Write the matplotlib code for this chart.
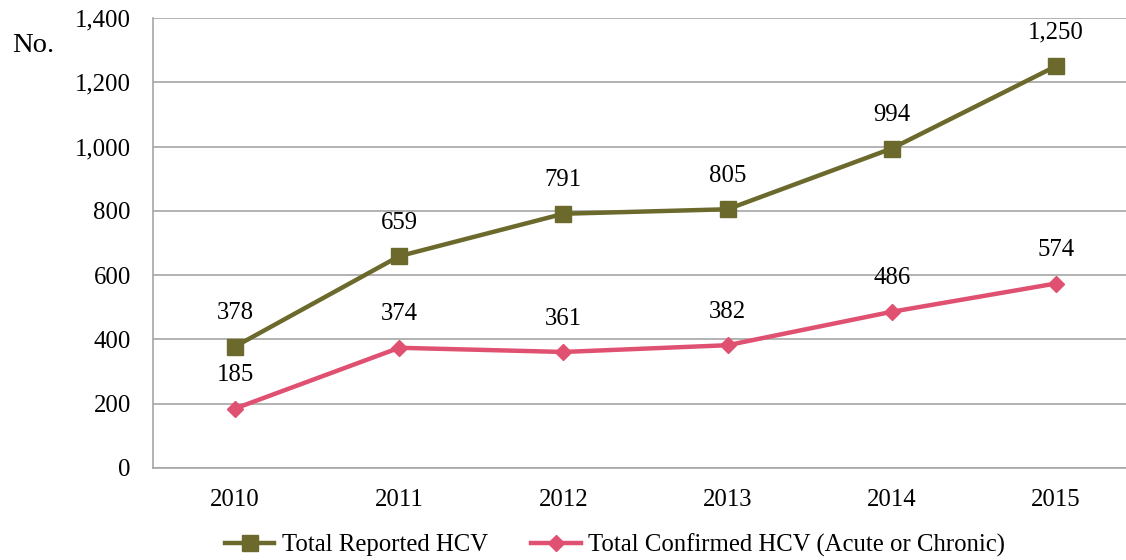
import matplotlib
matplotlib.use("Agg")
import matplotlib.pyplot as plt

years = ["2010", "2011", "2012", "2013", "2014", "2015"]
reported = [378, 659, 791, 805, 994, 1250]
confirmed = [185, 374, 361, 382, 486, 574]
yticks = [0, 200, 400, 600, 800, 1000, 1200, 1400]

plt.rcParams['font.family'] = ['Liberation Serif', 'DejaVu Serif']

olive = "#6B6A2C"
pink = "#E05070"
grid = "#A6A6A6"
fs = 17.8

fig = plt.figure(figsize=(11.26, 5.6), dpi=100)
ax = fig.add_axes([153/1126, 1-468/560, (1138-153)/1126, 450/560])

x = list(range(len(years)))
ax.plot(x, reported, color=olive, lw=3.2, marker='s', ms=12, label="Total Reported HCV", zorder=3)
ax.plot(x, confirmed, color=pink, lw=3.2, marker='D', ms=8.5, label="Total Confirmed HCV (Acute or Chronic)", zorder=3)

for xi, v in zip(x, reported):
    ax.annotate(f"{v:,}", (xi, v), xytext=(0, 24), textcoords='offset points',
                ha='center', va='center', fontsize=fs, color='black')
for xi, v in zip(x, confirmed):
    ax.annotate(f"{v:,}", (xi, v), xytext=(0, 24), textcoords='offset points',
                ha='center', va='center', fontsize=fs, color='black')

ax.set_xlim(-0.5, len(years) - 0.5)
ax.set_ylim(0, 1400)
ax.set_yticks(yticks)
ax.set_yticklabels([f"{t:,}" for t in yticks], fontsize=fs)
ax.set_xticks(x)
ax.set_xticklabels(years, fontsize=fs)
ax.tick_params(axis='y', length=0, pad=16)
ax.tick_params(axis='x', length=0, pad=15)
ax.grid(axis='y', color=grid, lw=1.2)
ax.set_axisbelow(True)
for s in ['top', 'right']:
    ax.spines[s].set_visible(False)
for s in ['left', 'bottom']:
    ax.spines[s].set_color(grid)
    ax.spines[s].set_linewidth(1.2)

fig.text(12/1126, 1-45/560, "No.", fontsize=20.5, ha='left', va='center')

fig.legend(loc='center', bbox_to_anchor=(615/1126, 1-545/560), ncol=2, frameon=False,
           fontsize=fs, handlelength=2.0, handletextpad=0.3, columnspacing=1.75)

fig.savefig("out.png", dpi=100)
